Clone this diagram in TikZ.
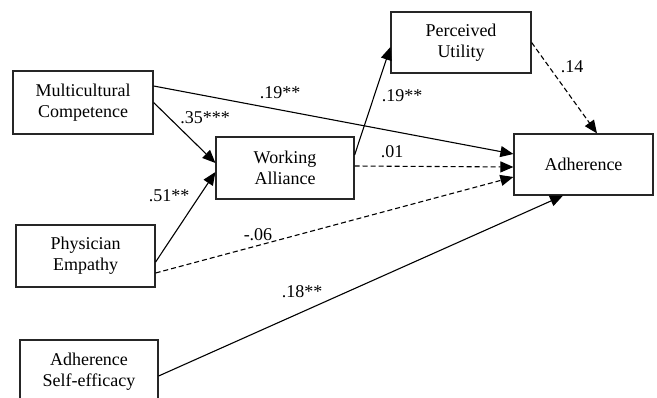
\documentclass[tikz,border=0pt]{standalone}
\usepackage{fontspec}
\setmainfont{Liberation Serif}
\newfontfamily\tnrfont{Liberation Serif}
\usetikzlibrary{arrows.meta}
\begin{document}
\begin{tikzpicture}[x=1pt,y=-1pt,
  box/.style={draw=black!85,line width=1.2pt,rectangle,align=center,inner sep=0pt,
    font=\tnrfont\fontsize{18}{21}\selectfont},
  lbl/.style={anchor=base,inner sep=0pt,font=\tnrfont\fontsize{18}{21}\selectfont},
  conn/.style={line width=1.1pt,-{Triangle[length=13pt,width=11pt]}},
  dconn/.style={conn,dash pattern=on 5pt off 3pt}]
\useasboundingbox (0,0) rectangle (657,398);
\begin{scope}
\clip (0,0) rectangle (657,398);
\node[box,minimum width=138pt,minimum height=64pt] (ase) at (89,372) {Adherence\\Self-efficacy};
\end{scope}
\node[box,minimum width=140pt,minimum height=63pt] (mc) at (83,102.5) {Multicultural\\Competence};
\node[box,minimum width=138pt,minimum height=62pt] (wa) at (285,168) {Working\\Alliance};
\node[box,minimum width=140pt,minimum height=61pt] (pu) at (461,42.5) {Perceived\\Utility};
\node[box,minimum width=139pt,minimum height=61pt] (adh) at (583.5,164.5) {Adherence};
\node[box,minimum width=139pt,minimum height=62pt] (pe) at (85.5,256) {Physician\\Empathy};

\draw[conn] ([yshift=16.5pt]mc.east) -- ([yshift=10.5pt]adh.west);
\draw[conn] (mc.east) -- ([yshift=5pt]wa.west);
\draw[conn] ([yshift=-6pt]pe.east) -- ([yshift=-4pt]wa.west);
\draw[conn] ([yshift=13pt]wa.east) -- ([yshift=-4.5pt]pu.west);
\draw[dconn] ([yshift=2pt]wa.east) -- ([yshift=-2.5pt]adh.west);
\draw[dconn] ([yshift=-17pt]pe.east) -- ([yshift=-12.5pt]adh.west);
\draw[dconn] (pu.east) -- ([xshift=13.5pt]adh.north);
\draw[conn] ([yshift=-4pt]ase.east) -- ([xshift=-20.5pt]adh.south);

\node[lbl] (l1) at (280,99) {.19**};
\node[lbl] (l2) at (205,124) {.35***};
\node[lbl] (l3) at (169,202) {.51**};
\node[lbl] (l4) at (258,241) {-.06};
\node[lbl] (l5) at (392,158) {.01};
\node[lbl] (l6) at (402,102) {.19**};
\node[lbl] (l7) at (572,73) {.14};
\node[lbl] (l8) at (302,298) {.18**};
\end{tikzpicture}
\end{document}
